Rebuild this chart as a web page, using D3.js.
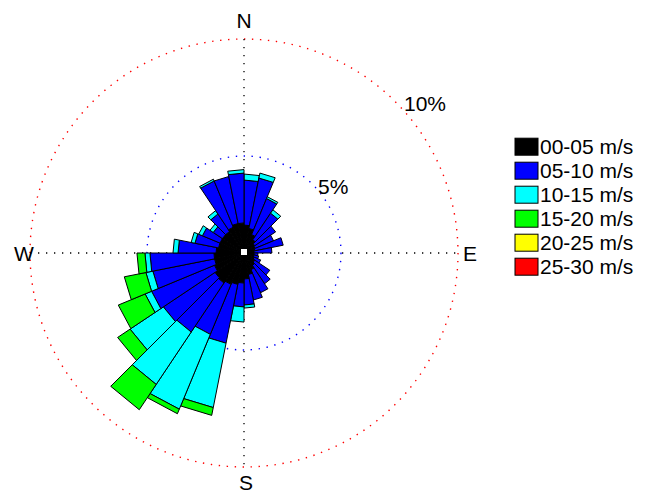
<!DOCTYPE html>
<html>
<head>
<meta charset="utf-8">
<script src="https://cdn.jsdelivr.net/npm/d3@7"></script>
<style>
html,body{margin:0;padding:0;background:#fff;}
svg{display:block;}
text{font-family:"Liberation Sans",Arial,Helvetica,sans-serif;fill:#000;}
</style>
</head>
<body>
<svg id="chart" width="647" height="493"></svg>
<script>
// ---- data ----
// sector start angles (compass degrees, clockwise from N), 32 sectors of 11.25 deg
const sectorStart = [0,11.25,22.5,33.75,45,56.25,67.5,78.75,90,101.25,112.5,123.75,135,146.25,157.5,168.75,
                     180,191.25,202.5,213.75,225,236.25,247.5,258.75,270,281.25,292.5,303.75,315,326.25,337.5,348.75];
const sectorWidth = 11.25;
const speedClasses = ["00-05 m/s","05-10 m/s","10-15 m/s","15-20 m/s","20-25 m/s","25-30 m/s"];
const classColors = ["#000000","#0000ff","#00ffff","#00ff00","#ffff00","#ff0000"];
// frequency (%) per sector for each speed class
const s00_05 = [1.44,1.29,1.03,0.82,0.67,0.62,0.57,0.52,0.52,0.52,0.57,0.67,0.77,0.93,1.13,1.34,
                1.55,1.65,1.75,1.86,1.80,1.65,1.55,1.55,1.44,1.34,1.34,1.34,1.34,1.44,1.55,1.55];
const s05_10 = [2.32,2.65,2.01,1.65,1.29,1.03,1.49,0.92,0.20,0.25,0.36,0.93,1.14,1.29,1.34,1.34,
                1.23,3.09,2.79,3.04,3.20,3.48,3.24,3.30,1.96,1.24,0.98,0.57,1.08,2.58,2.47,2.57];
const s10_15 = [0.31,0.26,0.10,0.21,0,0,0,0,0,0,0,0,0,0,0,0.16,
                0.78,2.85,3.54,2.71,1.71,0.30,0.34,0.24,0.26,0.20,0.21,0.20,0.21,0.10,0,0.18];
const s15_20 = [0,0,0,0,0,0,0,0,0,0,0,0,0,0,0,0,
                0,0.34,0.21,1.30,0.64,1.24,0.94,0.34,0,0,0,0,0,0,0,0];
const s20_25 = [0,0,0,0,0,0,0,0,0,0,0,0,0,0,0,0,0,0,0,0,0,0,0,0,0,0,0,0,0,0,0,0];
const s25_30 = [0,0,0,0,0,0,0,0,0,0,0,0,0,0,0,0,0,0,0,0,0,0,0,0,0,0,0,0,0,0,0,0];
const ringValues = [5,10];
const ringLabels = ["5%","10%"];
const ringColors = ["#0000ff","#ff0000"];
const compassLabels = ["N","E","S","W"];

// ---- drawing ----
const svg = d3.select("#chart");
const cx = 244, cy = 253;
const r = d3.scaleLinear().domain([0,5,10]).range([0,97,214]);
const rad = d => d*Math.PI/180;
const g = svg.append("g").attr("transform",`translate(${cx},${cy})`);

// rings
g.selectAll("circle.ring").data(ringValues).join("circle")
  .attr("class","ring").attr("r",d=>r(d)).attr("fill","none")
  .attr("stroke",(d,i)=>ringColors[i]).attr("stroke-width",1.4)
  .attr("stroke-dasharray","1.4 6.6");

// axes (dotted)
const R = r(10);
g.append("line").attr("x1",-R).attr("x2",R).attr("y1",0).attr("y2",0)
  .attr("stroke","#000").attr("stroke-width",1.3).attr("stroke-dasharray","1.3 6.7");
g.append("line").attr("y1",-R).attr("y2",R).attr("x1",0).attr("x2",0)
  .attr("stroke","#000").attr("stroke-width",1.3).attr("stroke-dasharray","1.3 6.7");

// bars
const series = [s00_05,s05_10,s10_15,s15_20,s20_25,s25_30];
const segs = [];
sectorStart.forEach((a0,k)=>{
  let cum = 0;
  series.forEach((s,c)=>{
    const v = s[k];
    if (v>0){ segs.push({a0:a0,a1:a0+sectorWidth,lo:cum,hi:cum+v,c:c}); }
    cum += v;
  });
});
g.selectAll("polygon.seg").data(segs).join("polygon")
  .attr("class","seg")
  .attr("points",d=>{
    const p = [d3.pointRadial(rad(d.a0),r(d.lo)),d3.pointRadial(rad(d.a0),r(d.hi)),
               d3.pointRadial(rad(d.a1),r(d.hi)),d3.pointRadial(rad(d.a1),r(d.lo))];
    return p.map(q=>q.join(",")).join(" ");
  })
  .attr("fill",d=>classColors[d.c]).attr("stroke","#000").attr("stroke-width",1)
  .attr("stroke-linejoin","miter");

// centre square
g.append("rect").attr("x",-3).attr("y",-4).attr("width",6).attr("height",6)
  .attr("fill","#fff").attr("stroke","none");

// compass labels
const lp = [{t:compassLabels[0],x:244,y:28,a:"middle"},{t:compassLabels[1],x:463,y:261,a:"start"},
            {t:compassLabels[2],x:246,y:490,a:"middle"},{t:compassLabels[3],x:24,y:261,a:"middle"}];
svg.selectAll("text.cmp").data(lp).join("text").attr("class","cmp")
  .attr("x",d=>d.x).attr("y",d=>d.y).attr("text-anchor",d=>d.a)
  .attr("font-size",21).text(d=>d.t);

// ring labels
const rl = [{x:318,y:194},{x:404,y:111}];
svg.selectAll("text.rl").data(ringLabels).join("text").attr("class","rl")
  .attr("x",(d,i)=>rl[i].x).attr("y",(d,i)=>rl[i].y).attr("font-size",21).text(d=>d);

// legend
const leg = svg.append("g");
const rowY = i => 146.7 + 24*i;
leg.selectAll("rect").data(speedClasses).join("rect")
  .attr("x",515).attr("y",(d,i)=>rowY(i)-8.5).attr("width",23).attr("height",17)
  .attr("fill",(d,i)=>classColors[i]).attr("stroke","#000").attr("stroke-width",1);
leg.selectAll("text").data(speedClasses).join("text")
  .attr("x",540).attr("y",(d,i)=>rowY(i)+7).attr("font-size",21).text(d=>d);
</script>
</body>
</html>
